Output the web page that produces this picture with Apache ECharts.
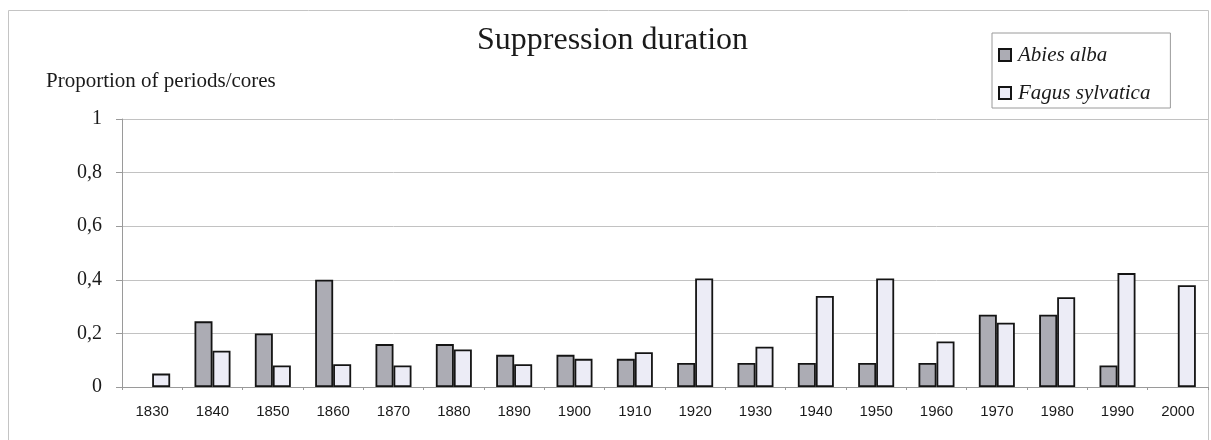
<!DOCTYPE html>
<html>
<head>
<meta charset="utf-8">
<title>Suppression duration</title>
<script src="https://cdn.jsdelivr.net/npm/echarts@6/dist/echarts.min.js"></script>
<style>
  html, body { margin: 0; padding: 0; background: #ffffff; }
  #chart { width: 1211px; height: 440px; }
</style>
</head>
<body>
<div id="chart"></div>
<script>
// Decades of the release/suppression record
const decades = ['1830', '1840', '1850', '1860', '1870', '1880', '1890', '1900', '1910',
                 '1920', '1930', '1940', '1950', '1960', '1970', '1980', '1990', '2000'];

// Proportion of periods/cores in suppression, per species
const abiesAlba = [0, 0.245, 0.20, 0.40, 0.16, 0.16, 0.12, 0.12, 0.105,
                   0.09, 0.09, 0.09, 0.09, 0.09, 0.27, 0.27, 0.08, 0];
const fagusSylvatica = [0.05, 0.135, 0.08, 0.085, 0.08, 0.14, 0.085, 0.105, 0.13,
                        0.405, 0.15, 0.34, 0.405, 0.17, 0.24, 0.335, 0.425, 0.38];

const yTicks = [0, 0.2, 0.4, 0.6, 0.8, 1];

const SERIF = '"Liberation Serif", "Times New Roman", serif';
const SANS = '"Liberation Sans", Arial, sans-serif';

// Zero-height bars get no outline, so an empty decade stays blank
function barData(values) {
  return values.map(function (v) {
    return v === 0 ? { value: v, itemStyle: { borderWidth: 0 } } : v;
  });
}

const chart = echarts.init(document.getElementById('chart'), null, { renderer: 'canvas' });

chart.setOption({
  animation: false,
  backgroundColor: '#ffffff',
  title: {
    text: 'Suppression duration',
    left: 477,
    top: 25,
    padding: 0,
    textStyle: { fontFamily: SERIF, fontSize: 32, fontWeight: 'normal', color: '#1a1a1a' }
  },
  legend: {
    orient: 'vertical',
    left: 992,
    top: 33,
    padding: [10, 20, 3, 6],
    icon: 'rect',
    itemWidth: 12,
    itemHeight: 12,
    itemGap: 14,
    borderColor: '#9a9a9a',
    borderWidth: 1,
    backgroundColor: '#ffffff',
    textStyle: {
      fontFamily: SERIF, fontStyle: 'italic', fontSize: 21, color: '#1a1a1a',
      lineHeight: 24, padding: [0, 0, 0, 2]
    },
    data: ['Abies alba', 'Fagus sylvatica']
  },
  graphic: [
    {
      type: 'rect',
      shape: { x: 8.5, y: 10.5, width: 1200, height: 440 },
      style: { fill: 'none', stroke: '#c4c4c4', lineWidth: 1 },
      silent: true, z: -10
    },
    {
      type: 'text',
      left: 46,
      top: 71,
      style: {
        text: 'Proportion of periods/cores',
        font: '21px ' + SERIF,
        fill: '#1a1a1a'
      }
    }
  ],
  grid: {
    left: 122,
    right: 3,
    top: 119,
    bottom: 53,
    containLabel: false
  },
  xAxis: {
    type: 'category',
    data: decades,
    boundaryGap: true,
    axisLine: { show: true, lineStyle: { color: '#9a9a9a', width: 1 } },
    axisTick: { show: true, alignWithLabel: false, length: 3, lineStyle: { color: '#9a9a9a' } },
    axisLabel: { fontFamily: SANS, fontSize: 15, color: '#1a1a1a', margin: 17, interval: 0 },
    splitLine: { show: false }
  },
  yAxis: {
    type: 'value',
    min: 0,
    max: 1,
    interval: 0.2,
    axisLine: { show: true, lineStyle: { color: '#9a9a9a', width: 1 } },
    axisTick: { show: true, inside: false, length: 6, lineStyle: { color: '#9a9a9a' } },
    axisLabel: {
      fontFamily: SERIF, fontSize: 20, color: '#1a1a1a', margin: 20,
      formatter: function (v) {
        const t = yTicks.find(function (k) { return Math.abs(k - v) < 1e-9; });
        const val = t === undefined ? v : t;
        return String(Math.round(val * 10) / 10).replace('.', ',');
      }
    },
    splitLine: { show: true, lineStyle: { color: '#c2c2c2', width: 1 } }
  },
  series: [
    {
      name: 'Abies alba',
      type: 'bar',
      data: barData(abiesAlba),
      barWidth: 18,
      barGap: '0%',
      itemStyle: { color: '#acacb4', borderColor: '#141414', borderWidth: 1.8 }
    },
    {
      name: 'Fagus sylvatica',
      type: 'bar',
      data: barData(fagusSylvatica),
      barWidth: 18,
      barGap: '0%',
      itemStyle: { color: '#ececf6', borderColor: '#141414', borderWidth: 1.8 }
    }
  ]
});
</script>
</body>
</html>
